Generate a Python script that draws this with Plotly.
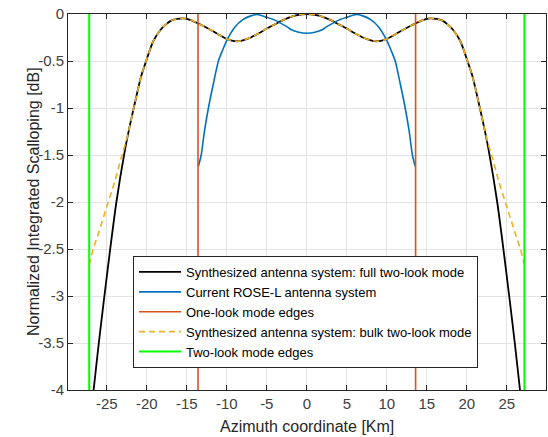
import plotly.graph_objects as go

# ---- data ----
x_full = [-27.2, -26.65, -26.0, -25.3, -24.5, -23.8, -22.8, -22.2, -21.5, -20.7, -20.0, -19.2, -18.3, -17.6,
          -16.9, -16.2, -15.4, -14.5, -13.6, -13.0, -12.0, -11.0, -10.0, -9.5, -8.7, -8.0, -7.0, -6.0, -5.0,
          -4.0, -3.0, -2.0, -1.0, 0.0, 1.0, 2.0, 3.0, 4.0, 5.0, 6.0, 7.0, 8.0, 8.7, 9.5, 10.0, 11.0, 12.0,
          13.0, 13.6, 14.5, 15.4, 16.2, 16.9, 17.6, 18.3, 19.2, 20.0, 20.7, 21.5, 22.2, 22.8, 23.8,
          24.5, 25.3, 26.0, 26.65, 27.2]
y_full = [-4.4, -4.0, -3.5, -3.0, -2.45, -2.0, -1.48, -1.22, -0.95, -0.66, -0.48, -0.29, -0.17, -0.11,
          -0.068, -0.052, -0.046, -0.065, -0.1, -0.125, -0.17, -0.22, -0.265, -0.28, -0.29, -0.28, -0.25, -0.205, -0.155,
          -0.11, -0.065, -0.03, -0.008, 0.0, -0.008, -0.03, -0.065, -0.11, -0.155, -0.205, -0.25, -0.28, -0.29, -0.28, -0.265, -0.22, -0.17,
          -0.125, -0.1, -0.065, -0.046, -0.052, -0.068, -0.11, -0.17, -0.29, -0.48, -0.66, -0.95, -1.22, -1.48, -2.0,
          -2.45, -3.0, -3.5, -4.0, -4.4]

x_bulk = [-27.2, -26.7, -26.0, -25.0, -24.0, -23.1, -22.6, -22.2, -21.5, -20.7, -20.0, -19.2, -18.3, -17.6,
          -16.9, -16.2, -15.4, -14.5, -13.6, -13.0, -12.0, -11.0, -10.0, -9.5, -8.7, -8.0, -7.0, -6.0, -5.0,
          -4.0, -3.0, -2.0, -1.0, 0.0, 1.0, 2.0, 3.0, 4.0, 5.0, 6.0, 7.0, 8.0, 8.7, 9.5, 10.0, 11.0, 12.0,
          13.0, 13.6, 14.5, 15.4, 16.2, 16.9, 17.6, 18.3, 19.2, 20.0, 20.7, 21.5, 22.2, 22.6, 23.1,
          24.0, 25.0, 26.0, 26.7, 27.2]
y_bulk = [-2.67, -2.5, -2.32, -2.05, -1.78, -1.5, -1.36, -1.22, -0.95, -0.66, -0.48, -0.29, -0.17, -0.11,
          -0.068, -0.052, -0.046, -0.065, -0.1, -0.125, -0.17, -0.22, -0.265, -0.28, -0.29, -0.28, -0.25, -0.205, -0.155,
          -0.11, -0.065, -0.03, -0.008, 0.0, -0.008, -0.03, -0.065, -0.11, -0.155, -0.205, -0.25, -0.28, -0.29, -0.28, -0.265, -0.22, -0.17,
          -0.125, -0.1, -0.065, -0.046, -0.052, -0.068, -0.11, -0.17, -0.29, -0.48, -0.66, -0.95, -1.22, -1.36, -1.5,
          -1.78, -2.05, -2.32, -2.5, -2.67]

x_rose = [-13.55, -13.2, -12.8, -12.3, -11.7, -11.05, -10.5, -10.0, -9.0, -8.0, -7.0, -6.2, -5.0, -4.0,
          -3.0, -2.5, -2.0, -1.0, 0.0, 1.0, 2.0, 2.5, 3.0, 4.0, 5.0, 6.2, 7.0, 8.0, 9.0, 10.0, 10.5,
          11.05, 11.7, 12.3, 12.8, 13.2, 13.55]
y_rose = [-1.62, -1.5, -1.25, -1.0, -0.75, -0.5, -0.38, -0.28, -0.14, -0.06, -0.02, -0.005, -0.035, -0.065,
          -0.11, -0.135, -0.165, -0.195, -0.205, -0.195, -0.165, -0.135, -0.11, -0.065, -0.035, -0.005, -0.02, -0.06, -0.14, -0.28, -0.38,
          -0.5, -0.75, -1.0, -1.25, -1.5, -1.62]

one_look_edges = [-13.6, 13.6]
two_look_edges = [-27.2, 27.2]
y_limits = [-4, 0]

x_tickvals = [-25, -20, -15, -10, -5, 0, 5, 10, 15, 20, 25]
x_ticktext = ["-25", "-20", "-15", "-10", "-5", "0", "5", "10", "15", "20", "25"]
y_tickvals = [0, -0.5, -1, -1.5, -2, -2.5, -3, -3.5, -4]
y_ticktext = ["0", "-0.5", "-1", "-1.5", "-2", "-2.5", "-3", "-3.5", "-4"]


def vlines(xs, lims):
    xx, yy = [], []
    for v in xs:
        xx += [v, v, None]
        yy += [lims[0], lims[1], None]
    return xx, yy


FONT = "Liberation Sans, Arial, sans-serif"

fig = go.Figure()
fig.add_trace(go.Scatter(x=x_full, y=y_full, mode="lines",
                         line=dict(color="#000000", width=1.8, shape="spline", smoothing=0.7),
                         name="Synthesized antenna system: full two-look mode"))
fig.add_trace(go.Scatter(x=x_rose, y=y_rose, mode="lines",
                         line=dict(color="#0072BD", width=1.6, shape="spline", smoothing=0.7),
                         name="Current ROSE-L antenna system"))
ox, oy = vlines(one_look_edges, y_limits)
fig.add_trace(go.Scatter(x=ox, y=oy, mode="lines",
                         line=dict(color="#D95319", width=1.6),
                         name="One-look mode edges"))
fig.add_trace(go.Scatter(x=x_bulk, y=y_bulk, mode="lines",
                         line=dict(color="#EDB120", width=1.6, dash="6px,4px", shape="spline", smoothing=0.7),
                         name="Synthesized antenna system: bulk two-look mode"))
tx, ty = vlines(two_look_edges, y_limits)
fig.add_trace(go.Scatter(x=tx, y=ty, mode="lines",
                         line=dict(color="#00FF00", width=2),
                         name="Two-look mode edges"))

axis_common = dict(showline=True, linecolor="#262626", linewidth=1, mirror="allticks",
                   ticks="inside", ticklen=5, tickcolor="#262626",
                   showgrid=True, gridcolor="#e3e3e3", gridwidth=1, zeroline=False,
                   tickfont=dict(family=FONT, size=15, color="#404040"))

fig.update_layout(
    width=548, height=437,
    margin=dict(l=68, r=2, t=14, b=47),
    paper_bgcolor="white", plot_bgcolor="white",
    font=dict(family=FONT, color="#262626"),
    xaxis=dict(range=[-29.85, 29.9], tickvals=x_tickvals, ticktext=x_ticktext, **axis_common),
    yaxis=dict(range=[-4, 0], tickvals=y_tickvals, ticktext=y_ticktext, **axis_common),
    showlegend=True,
    legend=dict(x=(133 - 68) / 478, y=(390 - 256) / 376, xanchor="left", yanchor="top",
                bgcolor="white", bordercolor="#262626", borderwidth=1,
                font=dict(size=13, color="#000000"), tracegroupgap=0, itemwidth=42),
    annotations=[
        dict(text="Azimuth coordinate [Km]", xref="paper", yref="paper",
             x=(306.7 - 68) / 478, y=(390 - 436) / 376, xanchor="center", yanchor="bottom",
             showarrow=False, borderpad=0, font=dict(family=FONT, size=16, color="#262626")),
        dict(text="Normalized Integrated Scalloping [dB]", xref="paper", yref="paper",
             x=(33 - 68) / 478, y=(390 - 202) / 376, xanchor="center", yanchor="middle",
             textangle=-90, showarrow=False, font=dict(family=FONT, size=16, color="#262626")),
    ],
)

fig.write_html("out.html")
